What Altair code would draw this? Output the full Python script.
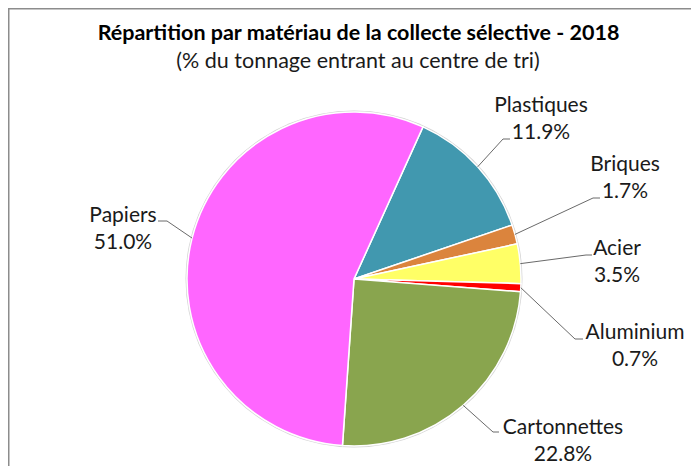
import math
import altair as alt
import pandas as pd

# ---- data ----
categories = ["Plastiques", "Briques", "Acier", "Aluminium", "Cartonnettes", "Papiers"]
values = [11.9, 1.7, 3.5, 0.7, 22.8, 51.0]
colors = ["#4198AF", "#DB843D", "#FFFF66", "#FF0000", "#89A54E", "#FF66FF"]
title_text = "Répartition par matériau de la collecte sélective - 2018"
subtitle_text = "(% du tonnage entrant au centre de tri)"

# ---- layout (pixels, chart coordinates) ----
W, H = 683, 458
CX, CY, R = 346, 271, 167
START_DEG = 24.4
FONT = "Lato"
# label centre x and first-line baseline relative to pie centre
label_pos = {
    "Plastiques": (187, -167),
    "Briques": (271, -108),
    "Acier": (263, -24),
    "Aluminium": (281, 60),
    "Cartonnettes": (209, 155),
    "Papiers": (-231, -57),
}
# leader elbow & end relative to pie centre
leader_pts = {
    "Plastiques": [(149, -140), (156, -140)],
    "Briques": [(239, -81), (246, -81)],
    "Acier": [(232, -24), (238, -24)],
    "Aluminium": [(221, 60), (229, 60)],
    "Cartonnettes": [(139, 153), (145, 153)],
    "Papiers": [(-187, -58), (-196, -58)],
}
LINE_GAP = 27

total = sum(values)
df = pd.DataFrame({"cat": categories, "value": values, "idx": range(len(categories))})

# labels
lab_rows = []
for c, v in zip(categories, values):
    dx, dy = label_pos[c]
    lab_rows.append({"cat": c, "txt": c, "x": CX + dx, "y": CY + dy})
    lab_rows.append({"cat": c, "txt": f"{v:.1f}%", "x": CX + dx, "y": CY + dy + LINE_GAP})
lab_df = pd.DataFrame(lab_rows)

# leader lines: edge at slice mid-angle
line_rows = []
cum = 0.0
for c, v in zip(categories, values):
    mid = math.radians(START_DEG + (cum + v / 2) / total * 360)
    cum += v
    pts = [(R * math.sin(mid), -R * math.cos(mid))] + leader_pts[c]
    for k, (px, py) in enumerate(pts):
        line_rows.append({"cat": c, "k": k, "x": CX + px, "y": CY + py})
line_df = pd.DataFrame(line_rows)

start = math.radians(START_DEG)

rim = alt.Chart(pd.DataFrame({"a": [0]})).mark_arc(
    outerRadius=R + 1.5, theta=0, theta2=2 * math.pi, color="#d4d4d4"
).encode(x=alt.value(CX), y=alt.value(CY))

pie = alt.Chart(df).mark_arc(outerRadius=R, stroke="white", strokeWidth=1.5).encode(
    theta=alt.Theta("value:Q", stack=True, scale=alt.Scale(range=[start, start + 2 * math.pi])),
    order=alt.Order("idx:Q"),
    color=alt.Color("cat:N", scale=alt.Scale(domain=categories, range=colors), legend=None),
    x=alt.value(CX),
    y=alt.value(CY),
)

leaders = alt.Chart(line_df).mark_line(color="#6a6a6a", strokeWidth=1).encode(
    x=alt.X("x:Q", scale=None),
    y=alt.Y("y:Q", scale=None),
    detail="cat:N",
    order="k:Q",
)

labels = alt.Chart(lab_df).mark_text(
    font=FONT, fontSize=21, color="#1a1a1a", align="center", baseline="alphabetic"
).encode(x=alt.X("x:Q", scale=None), y=alt.Y("y:Q", scale=None), text="txt:N")

tdf = pd.DataFrame({"t": [title_text]})
title = alt.Chart(tdf).mark_text(
    font=FONT, fontSize=21.5, fontWeight="bold", color="#000000", align="center", baseline="alphabetic"
).encode(x=alt.value(350.5), y=alt.value(32), text="t:N")

sdf = pd.DataFrame({"t": [subtitle_text]})
subtitle = alt.Chart(sdf).mark_text(
    font=FONT, fontSize=21.5, color="#1a1a1a", align="center", baseline="alphabetic"
).encode(x=alt.value(350), y=alt.value(60), text="t:N")

frame_top = alt.Chart(pd.DataFrame({"a": [0]})).mark_rule(color="#8c8c8c", strokeWidth=1.5).encode(
    x=alt.value(0), x2=alt.value(W), y=alt.value(0.75)
)
frame_left = alt.Chart(pd.DataFrame({"a": [0]})).mark_rule(color="#8c8c8c", strokeWidth=1.5).encode(
    x=alt.value(0.75), y=alt.value(0), y2=alt.value(H)
)

chart = alt.layer(rim, pie, leaders, labels, title, subtitle, frame_top, frame_left).properties(
    width=W, height=H, padding=0, autosize=alt.AutoSizeParams(type="none")
).configure_view(stroke=None).configure(background="white")

chart.save("out.html", embed_options={"renderer": "svg", "actions": False})
